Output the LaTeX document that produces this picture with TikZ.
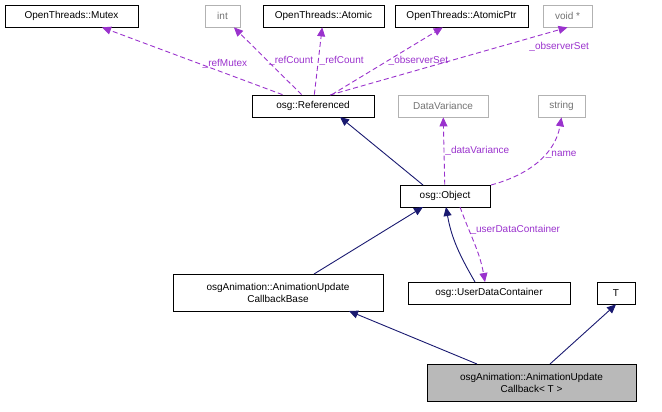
\documentclass[tikz,border=0pt]{standalone}
\usepackage{fontspec}
\setmainfont{Liberation Sans}
\usetikzlibrary{arrows.meta}
\definecolor{navy}{RGB}{25,25,112}
\definecolor{usage}{RGB}{154,50,205}
\tikzset{every picture/.style={line width=0.75pt}}
\tikzset{
	cls/.style={draw=black,fill=white,inner sep=0pt,minimum height=22bp,font=\fontsize{10bp}{12bp}\selectfont,align=center},
	ext/.style={cls,draw=gray!60,text=gray!90!black},
	inh/.style={navy,line width=0.9pt,-{Triangle[length=9bp,width=8bp]}},
	use/.style={usage,line width=0.9pt,dash pattern=on 5bp off 3bp,-{Triangle[length=9bp,width=8bp]}},
	lbl/.style={font=\fontsize{10bp}{12bp}\selectfont,inner sep=1pt}
}
\begin{document}
\begin{tikzpicture}[x=1bp,y=-1bp]
		\useasboundingbox (0,0) rectangle (662,411);
		\node[cls,minimum width=133bp] (mutex) at (71.5,16) {OpenThreads::Mutex};
		\node[ext,minimum width=35bp] (int) at (222.5,16) {int};
		\node[cls,minimum width=121bp] (atomic) at (323.5,16) {OpenThreads::Atomic};
		\node[cls,minimum width=133bp] (atomicptr) at (461.5,16) {OpenThreads::AtomicPtr};
		\node[ext,minimum width=49bp] (voidp) at (567.5,16) {void *};
		\node[cls,minimum width=122bp] (ref) at (313,106) {osg::Referenced};
		\node[ext,minimum width=90bp] (dv) at (443,106) {DataVariance};
		\node[ext,minimum width=47bp] (str) at (561.5,106) {string};
		\node[cls,minimum width=90bp] (obj) at (445,196) {osg::Object};
		\node[cls,minimum width=210bp,minimum height=37bp] (base) at (278,292.5) {osgAnimation::AnimationUpdate\\CallbackBase};
		\node[cls,minimum width=162bp] (udc) at (489,293) {osg::UserDataContainer};
		\node[cls,minimum width=38bp] (t) at (616,293) {T};
		\node[cls,fill=gray!55,minimum width=209bp,minimum height=37bp] (cb) at (531.5,382.5) {osgAnimation::AnimationUpdate\\Callback< T >};
		\coordinate (r1) at (340,117);
		\coordinate (o1) at (423,185);
		\coordinate (o2) at (446,207);
		\coordinate (o3) at (460,207);
		\coordinate (o4) at (423,207);
		\coordinate (b1) at (314,274);
		\coordinate (b2) at (349,311);
		\coordinate (c1) at (477,364);
		\coordinate (c2) at (550,364);
		\coordinate (u1) at (475,282);
		\coordinate (u2) at (485,282);
		\coordinate (s1) at (491,185);
		\coordinate (v1) at (330,95);
		% inheritance
		\draw[inh] (o1) -- (r1);
		\draw[inh] (b1) -- (o4);
		\draw[inh] (c1) -- (b2);
		\draw[inh] (c2) -- (t.south);
		\draw[inh] (u1) to[out=120,in=-80] (o2);
		% usage
		\draw[use] (ref) -- node[lbl,right,pos=0.45] {\_refMutex} (mutex);
		\draw[use] (ref) -- node[lbl,right,pos=0.5] {\_refCount} (int);
		\draw[use] (ref) -- node[lbl,right,pos=0.5] {\_refCount} (atomic);
		\draw[use] (ref) -- node[lbl,right,pos=0.5] {\_observerSet} (atomicptr);
		\draw[use] (v1) -- node[lbl,below right,pos=0.8,xshift=8bp] {\_observerSet} (voidp.south);
		\draw[use] (obj) -- node[lbl,right] {\_dataVariance} (dv);
		\draw[use] (s1) to[out=15,in=-100] node[lbl,right,pos=0.6] {\_name} (str.south);
		\draw[use] (o3) to[out=-70,in=100] node[lbl,right,pos=0.3] {\_userDataContainer} (u2);
	\end{tikzpicture}
\end{document}
